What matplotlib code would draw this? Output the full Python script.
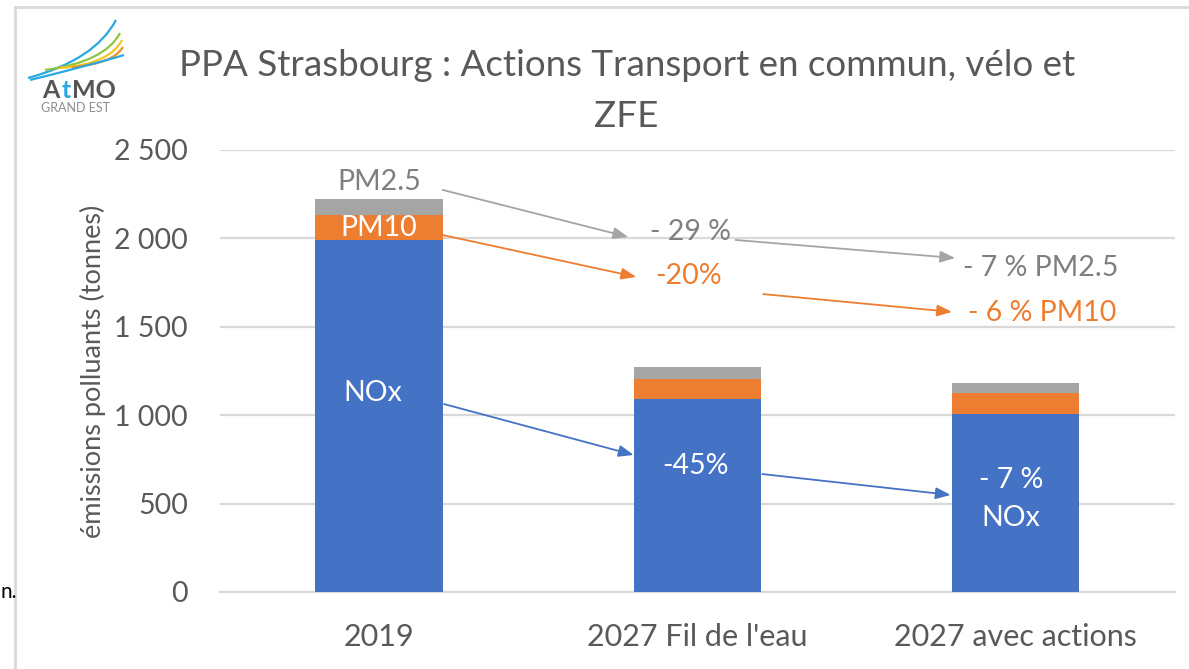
import numpy as np
import matplotlib
matplotlib.use("Agg")
import matplotlib.pyplot as plt
from matplotlib.path import Path
from matplotlib.patches import PathPatch

plt.rcParams['font.family'] = ['Lato', 'DejaVu Sans']

# Data
categories = ["2019", "2027 Fil de l'eau", "2027 avec actions"]
nox = [1990, 1090, 1005]
pm10 = [140, 115, 120]
pm25 = [95, 70, 55]

blue = "#4472C4"
orange = "#ED7D31"
gray = "#A5A5A5"
txt_gray = "#595959"
ann_gray = "#7F7F7F"
fs_ann = 20.5

fig = plt.figure(figsize=(11.89, 6.69), dpi=100)
ax = fig.add_axes([0.185, 0.1151, 0.988 - 0.185, 0.7758 - 0.1151])

x = np.arange(len(categories))
w = 0.4
b1 = np.array(nox)
b2 = b1 + np.array(pm10)
ax.bar(x, nox, w, color=blue, zorder=3)
ax.bar(x, pm10, w, bottom=b1, color=orange, zorder=3)
ax.bar(x, pm25, w, bottom=b2, color=gray, zorder=3)

ax.set_xlim(-0.5, 2.5)
ax.set_ylim(0, 2500)
ax.set_yticks(range(0, 2501, 500))
ax.set_yticklabels(["0", "500", "1 000", "1 500", "2 000", "2 500"])
ax.set_xticks(x)
ax.set_xticklabels(categories)
ax.tick_params(axis='x', length=0, labelsize=22, colors=txt_gray, pad=22)
ax.tick_params(axis='y', length=0, labelsize=20.5, colors=txt_gray, pad=23)
ax.yaxis.grid(True, color="#D9D9D9", linewidth=1.6, zorder=0)
for s in ax.spines.values():
    s.set_visible(False)
ax.spines['bottom'].set_visible(True)
ax.spines['bottom'].set_color("#D9D9D9")
ax.spines['bottom'].set_linewidth(1.6)
ax.set_ylabel("émissions polluants (tonnes)", fontsize=19.5, color=txt_gray, labelpad=6)

fig.text(0.527, 0.902, "PPA Strasbourg : Actions Transport en commun, vélo et",
         ha='center', va='center', fontsize=26.5, color=txt_gray)
fig.text(0.527, 0.826, "ZFE", ha='center', va='center', fontsize=26.5, color=txt_gray)

# labels on bars
ax.text(0, 2319, "PM2.5", ha='center', va='center', fontsize=fs_ann, color=ann_gray, zorder=5)
ax.text(0, 2060, "PM10", ha='center', va='center', fontsize=fs_ann, color="white", zorder=5)
ax.text(-0.02, 1125, "NOx", ha='center', va='center', fontsize=fs_ann, color="white", zorder=5)

# arrows
def arrow(p0, p1, col):
    ax.annotate("", xy=p1, xytext=p0, zorder=6,
                arrowprops=dict(arrowstyle="-|>,head_length=0.9,head_width=0.35",
                                color=col, lw=1.3, shrinkA=0, shrinkB=0))

arrow((0.2, 2274), (0.783, 2008), gray)
arrow((1.12, 1991), (1.81, 1889), gray)
arrow((0.2, 2019), (0.808, 1782), orange)
arrow((1.207, 1685), (1.80, 1584), orange)
arrow((0.204, 1063), (0.80, 775), blue)
arrow((1.204, 667), (1.796, 549), blue)

ax.text(0.978, 2036, "- 29 %", ha='center', va='center', fontsize=fs_ann, color=ann_gray, zorder=5)
ax.text(1.836, 1833, "- 7 % PM2.5", ha='left', va='center', fontsize=fs_ann, color=ann_gray, zorder=5)
ax.text(0.972, 1787, "-20%", ha='center', va='center', fontsize=fs_ann, color=orange, zorder=5)
ax.text(1.85, 1578, "- 6 % PM10", ha='left', va='center', fontsize=fs_ann, color=orange, zorder=5)
ax.text(0.994, 713, "-45%", ha='center', va='center', fontsize=fs_ann, color="white", zorder=5)
ax.text(1.985, 633, "- 7 %", ha='center', va='center', fontsize=fs_ann, color="white", zorder=5)
ax.text(1.985, 419, "NOx", ha='center', va='center', fontsize=fs_ann, color="white", zorder=5)

# frame border (left and top)
fig.add_artist(plt.Line2D([15 / 1189, 15 / 1189], [0, 1 - 7 / 669], color="#D9D9D9", lw=2))
fig.add_artist(plt.Line2D([15 / 1189, 1], [1 - 7 / 669, 1 - 7 / 669], color="#D9D9D9", lw=2))
fig.text(0.0, 1 - 592 / 669, "n.", fontsize=15, color="black", va='center', ha='left')

# logo
lax = fig.add_axes([0, 0, 1, 1], facecolor='none')
lax.set_xlim(0, 1189)
lax.set_ylim(669, 0)
lax.axis('off')
swooshes = [
    ((28, 78), (95, 60), (116, 20), "#29A8E0"),
    ((45, 70), (105, 62), (120, 33), "#8CC63F"),
    ((60, 68), (110, 64), (122, 40), "#F7C51E"),
    ((72, 67), (113, 64), (123, 47), "#F39223"),
    ((30, 80), (95, 64), (124, 55), "#29A8E0"),
]
for p0, pc, p1, col in swooshes:
    path = Path([p0, pc, p1], [Path.MOVETO, Path.CURVE3, Path.CURVE3])
    lax.add_patch(PathPatch(path, fc='none', ec=col, lw=1.6))
lax.text(42, 91, "A", fontsize=18, fontweight='bold', color="#555555", va='center', ha='left')
lax.text(62, 91, "t", fontsize=18, fontweight='bold', color="#29A8E0", va='center', ha='left')
lax.text(72, 91, "MO", fontsize=18, fontweight='bold', color="#555555", va='center', ha='left')
lax.text(41, 108, "GRAND EST", fontsize=9, color="#8C8C8C", va='center', ha='left')

fig.savefig("out.png", dpi=100)
